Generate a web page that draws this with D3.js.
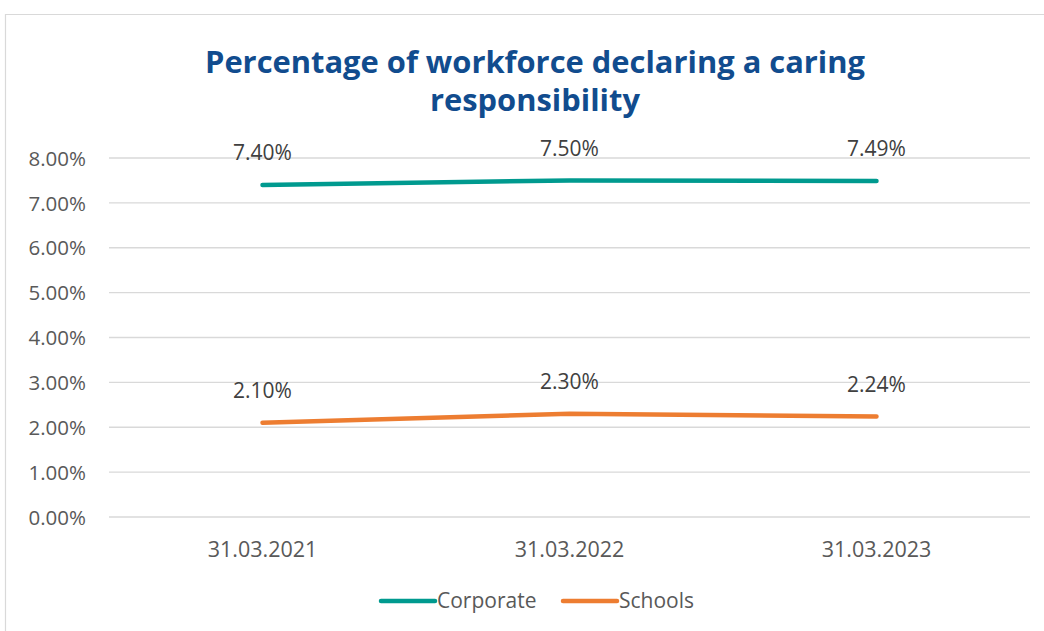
<!DOCTYPE html>
<html><head><meta charset="utf-8">
<script src="https://cdn.jsdelivr.net/npm/d3@7"></script>
<style>body{margin:0;background:#fff}svg{display:block}</style>
</head><body>
<svg id="c" width="1044" height="631"></svg>
<script>
const categories = ["31.03.2021", "31.03.2022", "31.03.2023"];
const corporate = [7.40, 7.50, 7.49];
const schools = [2.10, 2.30, 2.24];
const seriesNames = ["Corporate", "Schools"];
const yTicks = [0, 1, 2, 3, 4, 5, 6, 7, 8];
const titleLines = ["Percentage of workforce declaring a caring", "responsibility"];

const svg = d3.select("#c");
const colors = ["#009A8F", "#ED7D31"];
const font = "'Open Sans', 'Noto Sans', sans-serif";

svg.append("path").attr("d", "M5.5,631 V14.5 H1044").attr("fill", "none").attr("stroke", "#d9d9d9").attr("stroke-width", 1.2);

const x = d3.scaleBand().domain(categories).range([109, 1030]);
const y = d3.scaleLinear().domain([0, 8]).range([517, 158]);

// grid
svg.append("g").selectAll("line").data(yTicks).join("line")
  .attr("x1", 109).attr("x2", 1030)
  .attr("y1", d => y(d)).attr("y2", d => y(d))
  .attr("stroke", "#d9d9d9").attr("stroke-width", 1.3);

// y axis
const yAxis = d3.axisLeft(y).tickValues(yTicks).tickSize(0).tickPadding(0)
  .tickFormat(d => d.toFixed(2) + "%");
const yg = svg.append("g").attr("transform", "translate(86,0)").call(yAxis);
yg.select(".domain").remove();
yg.selectAll("text").attr("font-family", font).attr("font-size", 20.5).attr("fill", "#595959").attr("dy", "0.35em");

// x axis
const xAxis = d3.axisBottom(x).tickSize(0).tickPadding(0);
const xg = svg.append("g").attr("transform", "translate(0,549)").call(xAxis);
xg.select(".domain").remove();
xg.selectAll("text").attr("font-family", font).attr("font-size", 21.5).attr("fill", "#595959").attr("dy", "0.35em");

// title
svg.append("g").selectAll("text").data(titleLines).join("text")
  .attr("x", 535).attr("y", (d, i) => 73 + i * 38)
  .attr("text-anchor", "middle")
  .attr("font-family", font).attr("font-weight", "bold").attr("font-size", 31)
  .attr("fill", "#114C8E")
  .attr("textLength", (d, i) => i === 0 ? 660 : 210)
  .attr("lengthAdjust", "spacingAndGlyphs")
  .text(d => d);

const line = d3.line().x((d, i) => x(categories[i]) + x.bandwidth() / 2).y(d => y(d));
[corporate, schools].forEach((s, k) => {
  svg.append("path").attr("d", line(s)).attr("fill", "none")
    .attr("stroke", colors[k]).attr("stroke-width", 4.5).attr("stroke-linecap", "round").attr("stroke-linejoin", "round");
  svg.append("g").selectAll("text").data(s).join("text")
    .attr("x", (d, i) => x(categories[i]) + x.bandwidth() / 2)
    .attr("y", d => y(d) - 32)
    .attr("dy", "0.35em")
    .attr("text-anchor", "middle")
    .attr("font-family", font).attr("font-size", 21).attr("fill", "#404040")
    .text(d => d.toFixed(2) + "%");
});

// legend
const legX = [381, 563];
seriesNames.forEach((n, k) => {
  svg.append("line").attr("x1", legX[k]).attr("x2", legX[k] + 54).attr("y1", 601).attr("y2", 601)
    .attr("stroke", colors[k]).attr("stroke-width", 4.5).attr("stroke-linecap", "round");
  svg.append("text").attr("x", legX[k] + 56).attr("y", 601).attr("dy", "0.35em")
    .attr("font-family", font).attr("font-size", 21).attr("fill", "#595959").text(n);
});
</script>
</body></html>
